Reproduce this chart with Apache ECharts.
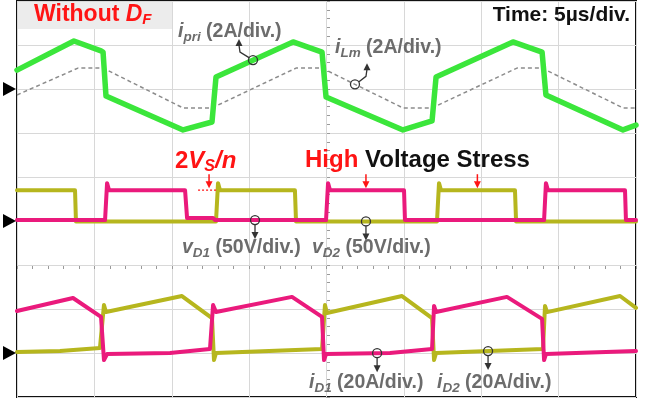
<!DOCTYPE html>
<html>
<head>
<meta charset="utf-8">
<script src="https://cdn.jsdelivr.net/npm/echarts@6/dist/echarts.min.js"></script>
<style>
  html, body { margin: 0; padding: 0; background: #fff; }
  #chart { width: 655px; height: 400px; }
</style>
</head>
<body>
<div id="chart"></div>
<script>
// ---- Captured waveforms: [time (µs), value] ----
// Primary current and magnetizing current (A)
const iPri = [
  [0, 0.86], [3.68, 2.18], [5.43, 1.73], [5.56, 1.68], [5.75, -0.32], [10.73, -1.86],
  [12.6, -1.5], [12.86, 0.55], [17.84, 2.14], [19.71, 1.68], [19.97, -0.36], [24.94, -1.86],
  [26.82, -1.45], [27.08, 0.55], [32.05, 2.14], [33.93, 1.68], [34.18, -0.27], [39.16, -1.86],
  [40, -1.64]
];
const iLm = [
  [0, -0.27], [3.94, 0.95], [5.56, 0.95], [10.73, -0.86], [12.6, -0.86], [18.03, 0.95],
  [19.71, 0.95], [24.94, -0.86], [26.82, -0.86], [32.31, 0.95], [33.93, 0.95], [39.16, -0.86],
  [40, -0.86]
];
// Rectifier diode voltages (V)
const vD1 = [
  [0, 1.1], [5.69, 1.1], [5.82, 43], [5.95, 35], [10.86, 35], [10.99, 3.4], [12.67, 3.4],
  [12.8, 1.1], [19.97, 1.1], [20.1, 43], [20.23, 35], [25.01, 35], [25.07, 1.1], [34.06, 1.1],
  [34.18, 43], [34.31, 35], [39.29, 35], [39.35, 1.1], [40, 1.1]
];
const vD2 = [
  [0, 35], [3.75, 35], [3.81, -0.5], [12.86, -0.5], [12.99, 43], [13.12, 35], [17.96, 35],
  [18.03, -0.5], [27.14, -0.5], [27.27, 43], [27.4, 35], [32.18, 35], [32.25, -0.5], [40, -0.5]
];
// Rectifier diode currents (A)
const iD1 = [
  [0, 19.1], [3.62, 25.0], [5.43, 16.4], [5.62, -3.2], [5.82, -0.5], [9.89, 0], [12.47, 1.8],
  [12.67, 21.8], [12.86, 18.6], [17.77, 25.5], [19.71, 16.4], [19.84, -3.2], [19.97, -0.5],
  [24.1, 0], [26.82, 1.8], [26.95, 21.4], [27.08, 18.6], [31.66, 25.5], [33.93, 15.5],
  [34.06, -3.2], [34.18, -0.5], [40, 0.9]
];
const iD2 = [
  [0, 0.5], [2.78, 0.9], [5.36, 2.3], [5.62, 21.8], [5.75, 18.6], [10.66, 25.9], [12.6, 15.9],
  [12.73, -3.2], [12.86, 0], [19.71, 1.8], [19.9, 21.8], [20.03, 18.2], [24.88, 25.9],
  [26.82, 15.9], [26.95, -3.2], [27.08, 0], [33.99, 1.8], [34.12, 21.4], [34.25, 18.6],
  [38.97, 25.9], [40, 20.5]
];

// Screen: 8 horizontal divisions of 5 µs, 9 vertical divisions
const TIME_PER_DIV = 5;
const H_DIVS = 8;
const V_DIVS = 9;

// Channel ground level (in divisions from the bottom) and scale (units per division)
const CH_TOP = { zero: 7, perDiv: 2 };   // 2 A/div
const CH_MID = { zero: 4, perDiv: 50 };  // 50 V/div
const CH_BOT = { zero: 1, perDiv: 20 };  // 20 A/div

const toDiv = (pts, ch) => pts.map(([t, v]) => [t, ch.zero + v / ch.perDiv]);

function valueAt(pts, t) {
  for (let k = 1; k < pts.length; k++) {
    if (t <= pts[k][0]) {
      const [t0, v0] = pts[k - 1], [t1, v1] = pts[k];
      return v0 + (v1 - v0) * (t - t0) / (t1 - t0);
    }
  }
  return pts[pts.length - 1][1];
}

const GREEN = '#3be63b';
const MAGENTA = '#ea1a7c';
const OLIVE = '#b6b61e';
const LABEL_GRAY = '#6c6c6c';
const RED = '#ff1414';
const FONT = '"Liberation Sans", Arial, sans-serif';

function trace(name, data, color, width, extra) {
  return Object.assign({
    name, type: 'line', data, showSymbol: false, symbol: 'none',
    xAxisIndex: 0, yAxisIndex: 0, animation: false, silent: true,
    lineStyle: { color, width, join: 'round', cap: 'round' }
  }, extra || {});
}

const tickStyle = { color: '#9a9a9a', width: 1 };

const option = {
  backgroundColor: '#fff',
  animation: false,
  grid: {
    left: 17, top: 1, width: 619, height: 396,
    show: true, borderColor: '#111', borderWidth: 2, backgroundColor: '#fff'
  },
  xAxis: [
    {
      type: 'value', min: 0, max: TIME_PER_DIV * H_DIVS, interval: TIME_PER_DIV,
      axisLabel: { show: false }, axisTick: { show: false }, axisLine: { show: false },
      splitLine: { show: true, lineStyle: { color: '#d8d8d8', width: 1 } }
    },
    {
      // tick ruler along a horizontal graticule line
      type: 'value', min: 0, max: TIME_PER_DIV * H_DIVS, interval: TIME_PER_DIV,
      position: 'bottom', offset: -265,
      axisLabel: { show: false }, axisLine: { show: false }, splitLine: { show: false },
      axisTick: { show: true, length: 3, lineStyle: tickStyle },
      minorTick: { show: true, splitNumber: 5, length: 3, lineStyle: tickStyle }
    }
  ],
  yAxis: [
    {
      type: 'value', min: 0, max: V_DIVS, interval: 1,
      axisLabel: { show: false }, axisTick: { show: false }, axisLine: { show: false },
      splitLine: { show: true, lineStyle: { color: '#d8d8d8', width: 1 } }
    },
    {
      // tick ruler along the centre vertical graticule line
      type: 'value', min: 0, max: V_DIVS, interval: 1,
      position: 'left', offset: -310,
      axisLabel: { show: false }, axisLine: { show: false }, splitLine: { show: false },
      axisTick: { show: true, length: 3, inside: true, lineStyle: tickStyle },
      minorTick: { show: true, splitNumber: 5, length: 3, lineStyle: tickStyle }
    }
  ],
  series: [
    trace('iLm', toDiv(iLm, CH_TOP), '#8c8c8c', 1.5, {
      lineStyle: { color: '#8c8c8c', width: 1.5, type: [4, 3] }
    }),
    trace('iPri', toDiv(iPri, CH_TOP), GREEN, 5.5),
    trace('vD2', toDiv(vD2, CH_MID), OLIVE, 4),
    trace('vD1', toDiv(vD1, CH_MID), MAGENTA, 4),
    trace('iD2', toDiv(iD2, CH_BOT), OLIVE, 4),
    trace('iD1', toDiv(iD1, CH_BOT), MAGENTA, 4)
  ]
};

const chart = echarts.init(document.getElementById('chart'), null, { renderer: 'canvas' });
chart.setOption(option);

const px = (t, div) => chart.convertToPixel({ xAxisIndex: 0, yAxisIndex: 0 }, [t, div]);
const onTrace = (pts, ch, t) => px(t, ch.zero + valueAt(pts, t) / ch.perDiv);

const graphics = [];
const DARK = '#333';

// Rich text styles for the probe labels
const labelRich = {
  m: { fontFamily: FONT, fontSize: 19.5, fontWeight: 'bold', fill: LABEL_GRAY },
  mi: { fontFamily: FONT, fontSize: 19.5, fontWeight: 'bold', fontStyle: 'italic', fill: LABEL_GRAY },
  s: { fontFamily: FONT, fontSize: 13.5, fontWeight: 'bold', fontStyle: 'italic', fill: LABEL_GRAY, padding: [10, 0, 0, 0] }
};
function probeLabel(x, y, sym, sub, scale) {
  graphics.push({
    type: 'text', x, y, z: 100,
    style: {
      text: `{mi|${sym}}{s|${sub}}{m| ${scale}}`,
      rich: labelRich, verticalAlign: 'middle', align: 'left'
    }
  });
}
function ring(p) {
  graphics.push({
    type: 'circle', shape: { cx: p[0], cy: p[1], r: 4.5 }, z: 100,
    style: { fill: 'none', stroke: DARK, lineWidth: 1.3 }
  });
}
function upArrowHead(x, yTip, color) {
  graphics.push({
    type: 'polygon', z: 100,
    shape: { points: [[x, yTip], [x - 3.5, yTip + 7], [x + 3.5, yTip + 7]] },
    style: { fill: color }
  });
}
function downArrowHead(x, yTip, color) {
  graphics.push({
    type: 'polygon', z: 100,
    shape: { points: [[x, yTip], [x - 3.5, yTip - 7], [x + 3.5, yTip - 7]] },
    style: { fill: color }
  });
}
function polyline(points, color, width, dash) {
  graphics.push({
    type: 'polyline', z: 100, shape: { points },
    style: { stroke: color, lineWidth: width, fill: 'none', lineDash: dash || null }
  });
}
function downPointer(p) {
  ring(p);
  polyline([[p[0], p[1] + 4.5], [p[0], p[1] + 13]], DARK, 1.3);
  downArrowHead(p[0], p[1] + 19, DARK);
}

// Title box
graphics.push({
  type: 'rect', shape: { x: 18, y: 2, width: 154, height: 27 }, z: 90,
  style: { fill: '#ececec' }
});
graphics.push({
  type: 'text', x: 34, y: 15, z: 100,
  style: {
    text: '{r|Without }{ri|D}{rs|F}', verticalAlign: 'middle',
    rich: {
      r: { fontFamily: FONT, fontSize: 23, fontWeight: 'bold', fill: RED },
      ri: { fontFamily: FONT, fontSize: 23, fontWeight: 'bold', fontStyle: 'italic', fill: RED },
      rs: { fontFamily: FONT, fontSize: 15, fontWeight: 'bold', fontStyle: 'italic', fill: RED, padding: [10, 0, 0, 0] }
    }
  }
});
graphics.push({
  type: 'text', x: 630, y: 15, z: 100,
  style: {
    text: 'Time: 5µs/div.', align: 'right', verticalAlign: 'middle',
    fontFamily: FONT, fontSize: 21, fontWeight: 'bold', fill: '#111'
  }
});

// Top panel probes
const pPri = onTrace(iPri, CH_TOP, 15.25);
ring(pPri);
polyline([[pPri[0] - 4, pPri[1] - 2.5], [pPri[0] - 13, pPri[1] - 8], [pPri[0] - 14, pPri[1] - 15]], DARK, 1.3);
upArrowHead(pPri[0] - 14, pPri[1] - 21, DARK);
probeLabel(178, 32, 'i', 'pri', '(2A/div.)');

const pLm = onTrace(iLm, CH_TOP, 21.84);
ring(pLm);
polyline([[pLm[0] + 4, pLm[1] - 2.5], [pLm[0] + 11, pLm[1] - 8], [pLm[0] + 12, pLm[1] - 15]], DARK, 1.3);
upArrowHead(pLm[0] + 12, pLm[1] - 21, DARK);
probeLabel(335, 48, 'i', 'Lm', '(2A/div.)');

// Middle panel probes
downPointer(onTrace(vD1, CH_MID, 15.38));
downPointer(onTrace(vD2, CH_MID, 22.55));
probeLabel(182, 248, 'v', 'D1', '(50V/div.)');
probeLabel(312, 248, 'v', 'D2', '(50V/div.)');

// Bottom panel probes
downPointer(onTrace(iD1, CH_BOT, 23.27));
downPointer(onTrace(iD2, CH_BOT, 30.44));
probeLabel(309, 383, 'i', 'D1', '(20A/div.)');
probeLabel(437, 383, 'i', 'D2', '(20A/div.)');

// Voltage stress annotations
const hiLevel = CH_MID.zero + 35 / CH_MID.perDiv;
function redArrow(t) {
  const p = px(t, hiLevel);
  const tip = p[1] - 2;
  polyline([[p[0], tip - 14], [p[0], tip - 5]], RED, 1.5);
  downArrowHead(p[0], tip, RED);
}
redArrow(12.41);
const d0 = px(11.7, hiLevel), d1 = px(12.9, hiLevel);
polyline([[d0[0], d0[1]], [d1[0], d1[1]]], RED, 1.3, [2, 2]);
redArrow(22.55);
redArrow(29.75);

graphics.push({
  type: 'text', x: 175, y: 161, z: 100,
  style: {
    text: '{r|2}{ri|V}{rs|S}{ri|/n}', verticalAlign: 'middle',
    rich: {
      r: { fontFamily: FONT, fontSize: 24, fontWeight: 'bold', fill: RED },
      ri: { fontFamily: FONT, fontSize: 24, fontWeight: 'bold', fontStyle: 'italic', fill: RED },
      rs: { fontFamily: FONT, fontSize: 16, fontWeight: 'bold', fontStyle: 'italic', fill: RED, padding: [11, 0, 0, 0] }
    }
  }
});
graphics.push({
  type: 'text', x: 305, y: 160, z: 100,
  style: {
    text: '{r|High }{k|Voltage Stress}', verticalAlign: 'middle',
    rich: {
      r: { fontFamily: FONT, fontSize: 24, fontWeight: 'bold', fill: RED },
      k: { fontFamily: FONT, fontSize: 24, fontWeight: 'bold', fill: '#111' }
    }
  }
});

// Channel ground markers at the left edge
[CH_TOP, CH_MID, CH_BOT].forEach(ch => {
  const y = px(0, ch.zero)[1];
  graphics.push({
    type: 'polygon', z: 100,
    shape: { points: [[3, y - 7], [3, y + 7], [16, y]] },
    style: { fill: '#000' }
  });
});

chart.setOption({ graphic: graphics });
</script>
</body>
</html>
